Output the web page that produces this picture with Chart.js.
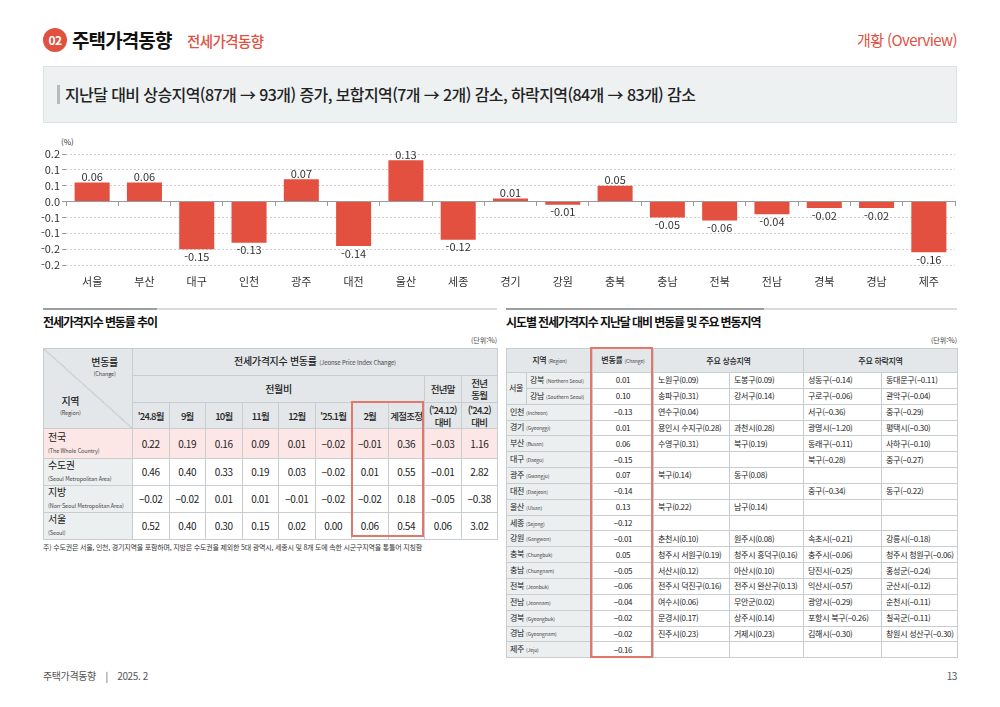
<!DOCTYPE html>
<html lang="ko">
<head>
<meta charset="utf-8">
<title>주택가격동향 - 전세가격동향</title>
<script src="https://cdn.jsdelivr.net/npm/chart.js@4.4.1/dist/chart.umd.min.js"></script>
<style>
  body { margin: 0; background: #fff; font-family: "Noto Sans CJK KR", "Noto Sans", sans-serif; color: #222; }
  .page { position: relative; width: 1000px; height: 707px; overflow: hidden; }
  .abs { position: absolute; white-space: nowrap; }
  .badge { left: 43px; top: 28px; width: 24px; height: 24px; border-radius: 50%; background: #e0513f; color: #fff;
           font-size: 12px; font-weight: 700; text-align: center; line-height: 24px; letter-spacing: -0.5px; }
  .title { left: 72px; top: 25px; font-size: 19px; font-weight: 700; letter-spacing: -0.9px; line-height: 30px; color: #111; }
  .subtitle { left: 187px; top: 30px; font-size: 14.5px; font-weight: 500; letter-spacing: -0.6px; line-height: 22px; color: #e0513f; }
  .overview { right: 43px; top: 29px; font-size: 15px; letter-spacing: -0.6px; line-height: 22px; color: #e0513f; }
  .summary { left: 43px; top: 66px; width: 912px; height: 55px; background: #eef1f2; border: 1px solid #dde2e4; }
  .summary .bar { position: absolute; left: 13px; top: 18px; width: 3px; height: 19px; background: #b8bcbf; }
  .summary .txt { position: absolute; left: 21px; top: 14px; font-size: 16px; font-weight: 500; letter-spacing: -0.6px; line-height: 26px; color: #222; white-space: nowrap; }
  .pct { left: 61px; top: 136px; font-size: 8px; color: #333; }
  #chartBox { position: absolute; left: 25px; top: 130px; width: 935px; height: 165px; }
  .secline { height: 2px; background: #d9dbdd; }
  .secline span { display: block; height: 2px; background: #9b9fa3; }
  .sectitle { font-size: 12px; font-weight: 700; letter-spacing: -1.1px; line-height: 18px; color: #111; }
  .unit { font-size: 7px; color: #444; }
  table { border-collapse: collapse; table-layout: fixed; position: absolute; }
  td, th { border: 1px solid #c9cdd0; padding: 0; text-align: center; vertical-align: middle; overflow: hidden; white-space: nowrap; }
  th { background: #e3e7e9; font-weight: 500; color: #222; }
  #trend td, #trend th { font-size: 10px; line-height: 12px; letter-spacing: -0.3px; }
  #trend th.tight { font-size: 9.5px; letter-spacing: -0.8px; }
  #trend td.reg { background: #eceff0; text-align: left; padding-left: 4px; }
  #trend tr.nat td { background: #fce6e6; }
  .en { font-size: 5.5px; color: #444; font-weight: 400; letter-spacing: -0.1px; }
  #sido td, #sido th { font-size: 8px; line-height: 10px; letter-spacing: -0.3px; }
  #sido .en { font-size: 5px; }
  #sido td.reg { background: #eceff0; text-align: left; padding-left: 3px; }
  #sido td.txt { text-align: left; padding-left: 4px; }
  .corner { background: #e3e7e9 linear-gradient(to top right, transparent calc(50% - 0.6px), #b0b5b9, transparent calc(50% + 0.6px)) !important; position: relative; }
  .redbox { position: absolute; border: 2px solid #e2786c; box-sizing: border-box; }
  .note { left: 43px; top: 542px; font-size: 7px; color: #333; letter-spacing: -0.2px; }
  .foot { top: 668px; font-size: 10px; color: #555; letter-spacing: -0.4px; }
</style>
</head>
<body>
<div class="page">
  <div class="abs badge">02</div>
  <div class="abs title">주택가격동향</div>
  <div class="abs subtitle">전세가격동향</div>
  <div class="abs overview">개황 (Overview)</div>

  <div class="abs summary">
    <div class="bar"></div>
    <div class="txt">지난달 대비 상승지역(87개 → 93개) 증가, 보합지역(7개 → 2개) 감소, 하락지역(84개 → 83개) 감소</div>
  </div>

  <div class="abs pct">(%)</div>
  <div id="chartBox"><canvas id="jeonseChart"></canvas></div>

  <div class="abs secline" style="left:43px; top:308px; width:454px;"><span style="width:114px;"></span></div>
  <div class="abs sectitle" style="left:43px; top:313px;">전세가격지수 변동률 추이</div>
  <div class="abs unit" style="right:503px; top:335px;">(단위:%)</div>

  <div class="abs secline" style="left:506px; top:308px; width:451px;"><span style="width:258px;"></span></div>
  <div class="abs sectitle" style="left:506px; top:313px;">시도별 전세가격지수 지난달 대비 변동률 및 주요 변동지역</div>
  <div class="abs unit" style="right:43px; top:335px;">(단위:%)</div>

  <table id="trend" style="left:43px; top:348px; width:454px;"></table>
  <div class="redbox" style="left:351px; top:401px; width:73px; height:136px;"></div>
  <div class="abs note">주) 수도권은 서울, 인천, 경기지역을 포함하며, 지방은 수도권을 제외한 5대 광역시, 세종시 및 8개 도에 속한 시군구지역을 통틀어 지칭함</div>

  <table id="sido" style="left:506px; top:348px; width:451px;"></table>
  <div class="redbox" style="left:590px; top:347px; width:63px; height:311px;"></div>

  <div class="abs foot" style="left:43px;">주택가격동향 &nbsp;&nbsp;&nbsp;|&nbsp;&nbsp;&nbsp; 2025. 2</div>
  <div class="abs foot" style="right:43px;">13</div>
</div>

<script>
// bar chart: 시도별 전세가격지수 지난달 대비 변동률
const regions = ["서울", "부산", "대구", "인천", "광주", "대전", "울산", "세종", "경기",
                 "강원", "충북", "충남", "전북", "전남", "경북", "경남", "제주"];
const jeonseChange = [0.06, 0.06, -0.15, -0.13, 0.07, -0.14, 0.13, -0.12, 0.01,
                      -0.01, 0.05, -0.05, -0.06, -0.04, -0.02, -0.02, -0.16];
// y ticks, bottom to top, and the labels as printed (rounded to 1 decimal)
const yTickValues = [-0.2, -0.15, -0.1, -0.05, 0, 0.05, 0.1, 0.15];
const yTickLabels = ["-0.2", "-0.2", "-0.1", "-0.1", "0.0", "0.1", "0.1", "0.2"];

// 전세가격지수 변동률 추이
const monthHeaders = ["'24.8월", "9월", "10월", "11월", "12월", "'25.1월", "2월", "계절조정"];
const trendRegions = [["전국", "The Whole Country"], ["수도권", "Seoul Metropolitan Area"],
                      ["지방", "Non-Seoul Metropolitan Area"], ["서울", "Seoul"]];
const trendNational = [0.22, 0.19, 0.16, 0.09, 0.01, -0.02, -0.01, 0.36, -0.03, 1.16];
const trendCapital = [0.46, 0.40, 0.33, 0.19, 0.03, -0.02, 0.01, 0.55, -0.01, 2.82];
const trendNonCapital = [-0.02, -0.02, 0.01, 0.01, -0.01, -0.02, -0.02, 0.18, -0.05, -0.38];
const trendSeoul = [0.52, 0.40, 0.30, 0.15, 0.02, 0.00, 0.06, 0.54, 0.06, 3.02];

// 시도별 주요 변동지역
const sidoNames = [["강북", "Northern Seoul"], ["강남", "Southern Seoul"], ["인천", "Incheon"], ["경기", "Gyeonggi"],
                   ["부산", "Busan"], ["대구", "Daegu"], ["광주", "Gwangju"], ["대전", "Daejeon"], ["울산", "Ulsan"],
                   ["세종", "Sejong"], ["강원", "Gangwon"], ["충북", "Chungbuk"], ["충남", "Chungnam"],
                   ["전북", "Jeonbuk"], ["전남", "Jeonnam"], ["경북", "Gyeongbuk"], ["경남", "Gyeongnam"], ["제주", "Jeju"]];
const sidoChange = [0.01, 0.10, -0.13, 0.01, 0.06, -0.15, 0.07, -0.14, 0.13, -0.12,
                    -0.01, 0.05, -0.05, -0.06, -0.04, -0.02, -0.02, -0.16];
const riseFirst = ["노원구(0.09)", "송파구(0.31)", "연수구(0.04)", "용인시 수지구(0.28)", "수영구(0.31)", "", "북구(0.14)", "",
                   "북구(0.22)", "", "춘천시(0.10)", "청주시 서원구(0.19)", "서산시(0.12)", "전주시 덕진구(0.16)",
                   "여수시(0.06)", "문경시(0.17)", "진주시(0.23)", ""];
const riseSecond = ["도봉구(0.09)", "강서구(0.14)", "", "과천시(0.28)", "북구(0.19)", "", "동구(0.08)", "",
                    "남구(0.14)", "", "원주시(0.08)", "청주시 흥덕구(0.16)", "아산시(0.10)", "전주시 완산구(0.13)",
                    "무안군(0.02)", "상주시(0.14)", "거제시(0.23)", ""];
const fallFirst = ["성동구(−0.14)", "구로구(−0.06)", "서구(−0.36)", "광명시(−1.20)", "동래구(−0.11)", "북구(−0.28)", "",
                   "중구(−0.34)", "", "", "속초시(−0.21)", "충주시(−0.06)", "당진시(−0.25)", "익산시(−0.57)",
                   "광양시(−0.29)", "포항시 북구(−0.26)", "김해시(−0.30)", ""];
const fallSecond = ["동대문구(−0.11)", "관악구(−0.04)", "중구(−0.29)", "평택시(−0.30)", "사하구(−0.10)", "중구(−0.27)", "",
                    "동구(−0.22)", "", "", "강릉시(−0.18)", "청주시 청원구(−0.06)", "홍성군(−0.24)", "군산시(−0.12)",
                    "순천시(−0.11)", "칠곡군(−0.11)", "창원시 성산구(−0.30)", ""];

function tableNum(v) {
    return v.toFixed(2).replace("-", "−");
}

// ---- left table ----
const trend = document.getElementById("trend");
let html = "<colgroup><col style='width:89px'>";
for (let i = 0; i < 10; i++) html += "<col style='width:36.5px'>";
html += "</colgroup>";
html += "<tr style='height:27px'><th class='corner' rowspan='3'>" +
        "<div style='position:absolute; right:14px; top:8px; text-align:center; line-height:10px;'>변동률<br><span class='en'>(Change)</span></div>" +
        "<div style='position:absolute; left:16px; bottom:10px; text-align:center; line-height:10px;'>지역<br><span class='en'>(Region)</span></div></th>" +
        "<th colspan='10'>전세가격지수 변동률 <span class='en' style='font-size:6px'>(Jeonse Price Index Change)</span></th></tr>";
html += "<tr style='height:27px'><th colspan='8'>전월비</th><th class='tight'>전년말</th><th class='tight'>전년<br>동월</th></tr>";
html += "<tr style='height:26px'>";
monthHeaders.forEach(m => { html += "<th class='tight'>" + m + "</th>"; });
html += "<th class='tight'>('24.12)<br>대비</th><th class='tight'>('24.2)<br>대비</th></tr>";
const trendRows = [trendNational, trendCapital, trendNonCapital, trendSeoul];
const trendHeights = [30, 27, 26, 26];
trendRows.forEach((row, r) => {
    html += "<tr class='" + (r === 0 ? "nat" : "") + "' style='height:" + trendHeights[r] + "px'>";
    html += "<td class='reg'>" + trendRegions[r][0] + "<br><span class='en'>(" + trendRegions[r][1] + ")</span></td>";
    row.forEach(v => { html += "<td>" + tableNum(v) + "</td>"; });
    html += "</tr>";
});
trend.innerHTML = html;

// ---- right table ----
const sido = document.getElementById("sido");
html = "<colgroup><col style='width:20px'><col style='width:66px'><col style='width:61px'>" +
       "<col style='width:76px'><col style='width:74px'><col style='width:78px'><col style='width:76px'></colgroup>";
html += "<tr style='height:24px'><th colspan='2'>지역 <span class='en'>(Region)</span></th>" +
        "<th>변동률 <span class='en'>(Change)</span></th><th colspan='2'>주요 상승지역</th><th colspan='2'>주요 하락지역</th></tr>";
sidoNames.forEach((name, i) => {
    html += "<tr style='height:15.85px'>";
    if (i === 0) html += "<td class='reg' rowspan='2' style='padding-left:2px'>서울</td>";
    const label = name[0] + " <span class='en'>(" + name[1] + ")</span>";
    if (i < 2) html += "<td class='reg'>" + label + "</td>";
    else html += "<td class='reg' colspan='2'>" + label + "</td>";
    html += "<td>" + tableNum(sidoChange[i]) + "</td>";
    html += "<td class='txt'>" + riseFirst[i] + "</td><td class='txt'>" + riseSecond[i] + "</td>";
    html += "<td class='txt'>" + fallFirst[i] + "</td><td class='txt'>" + fallSecond[i] + "</td>";
    html += "</tr>";
});
sido.innerHTML = html;

// ---- bar chart ----
Chart.defaults.font.family = '"Noto Sans CJK KR", "Noto Sans", sans-serif';
Chart.defaults.color = "#333";

const valueLabels = {
    id: "valueLabels",
    afterDatasetsDraw(chart) {
        const ctx = chart.ctx;
        const meta = chart.getDatasetMeta(0);
        ctx.save();
        ctx.font = '11px "Noto Sans CJK KR", sans-serif';
        ctx.fillStyle = "#333";
        ctx.textAlign = "center";
        meta.data.forEach((bar, i) => {
            const v = jeonseChange[i];
            if (v >= 0) {
                ctx.textBaseline = "bottom";
                ctx.fillText(v.toFixed(2), bar.x, bar.y);
            } else {
                ctx.textBaseline = "top";
                ctx.fillText(v.toFixed(2), bar.x, bar.y + 2);
            }
        });
        ctx.restore();
    }
};

const isZero = v => Math.abs(v) < 1e-9;

new Chart(document.getElementById("jeonseChart"), {
    type: "bar",
    data: {
        labels: regions,
        datasets: [{
            data: jeonseChange,
            backgroundColor: "#e3503f",
            borderWidth: 0,
            categoryPercentage: 1,
            barPercentage: 0.67
        }]
    },
    options: {
        responsive: true,
        maintainAspectRatio: false,
        animation: false,
        layout: { padding: { top: 24, right: 5, left: 0, bottom: 0 } },
        plugins: {
            legend: { display: false },
            tooltip: { enabled: false }
        },
        scales: {
            x: {
                grid: { display: false },
                border: { display: false },
                ticks: { padding: 2, font: { size: 11 }, color: "#333" },
                afterFit: s => { s.height = 30; }
            },
            zeroAxis: {
                type: "category",
                axis: "x",
                position: { y: 0 },
                offset: true,
                grid: { offset: true, drawOnChartArea: false, drawTicks: true, tickLength: 4, color: "#9a9a9a" },
                border: { display: true, color: "#9a9a9a", width: 1 },
                ticks: { display: false }
            },
            y: {
                min: -0.2,
                max: 0.15,
                border: {
                    display: false,
                    dash: ctx => (ctx.tick && isZero(ctx.tick.value)) ? [] : [2, 2]
                },
                grid: {
                    color: ctx => (ctx.tick && isZero(ctx.tick.value)) ? "#9a9a9a" : "#cfcfcf",
                    tickColor: "#9a9a9a",
                    tickLength: 4,
                    drawTicks: true
                },
                afterBuildTicks: s => { s.ticks = yTickValues.map(v => ({ value: v })); },
                ticks: {
                    autoSkip: false,
                    padding: 2,
                    font: { size: 11 },
                    color: "#333",
                    callback: (value, index) => yTickLabels[index]
                },
                afterFit: s => { s.width = 41; }
            }
        }
    },
    plugins: [valueLabels]
});
</script>
</body>
</html>
